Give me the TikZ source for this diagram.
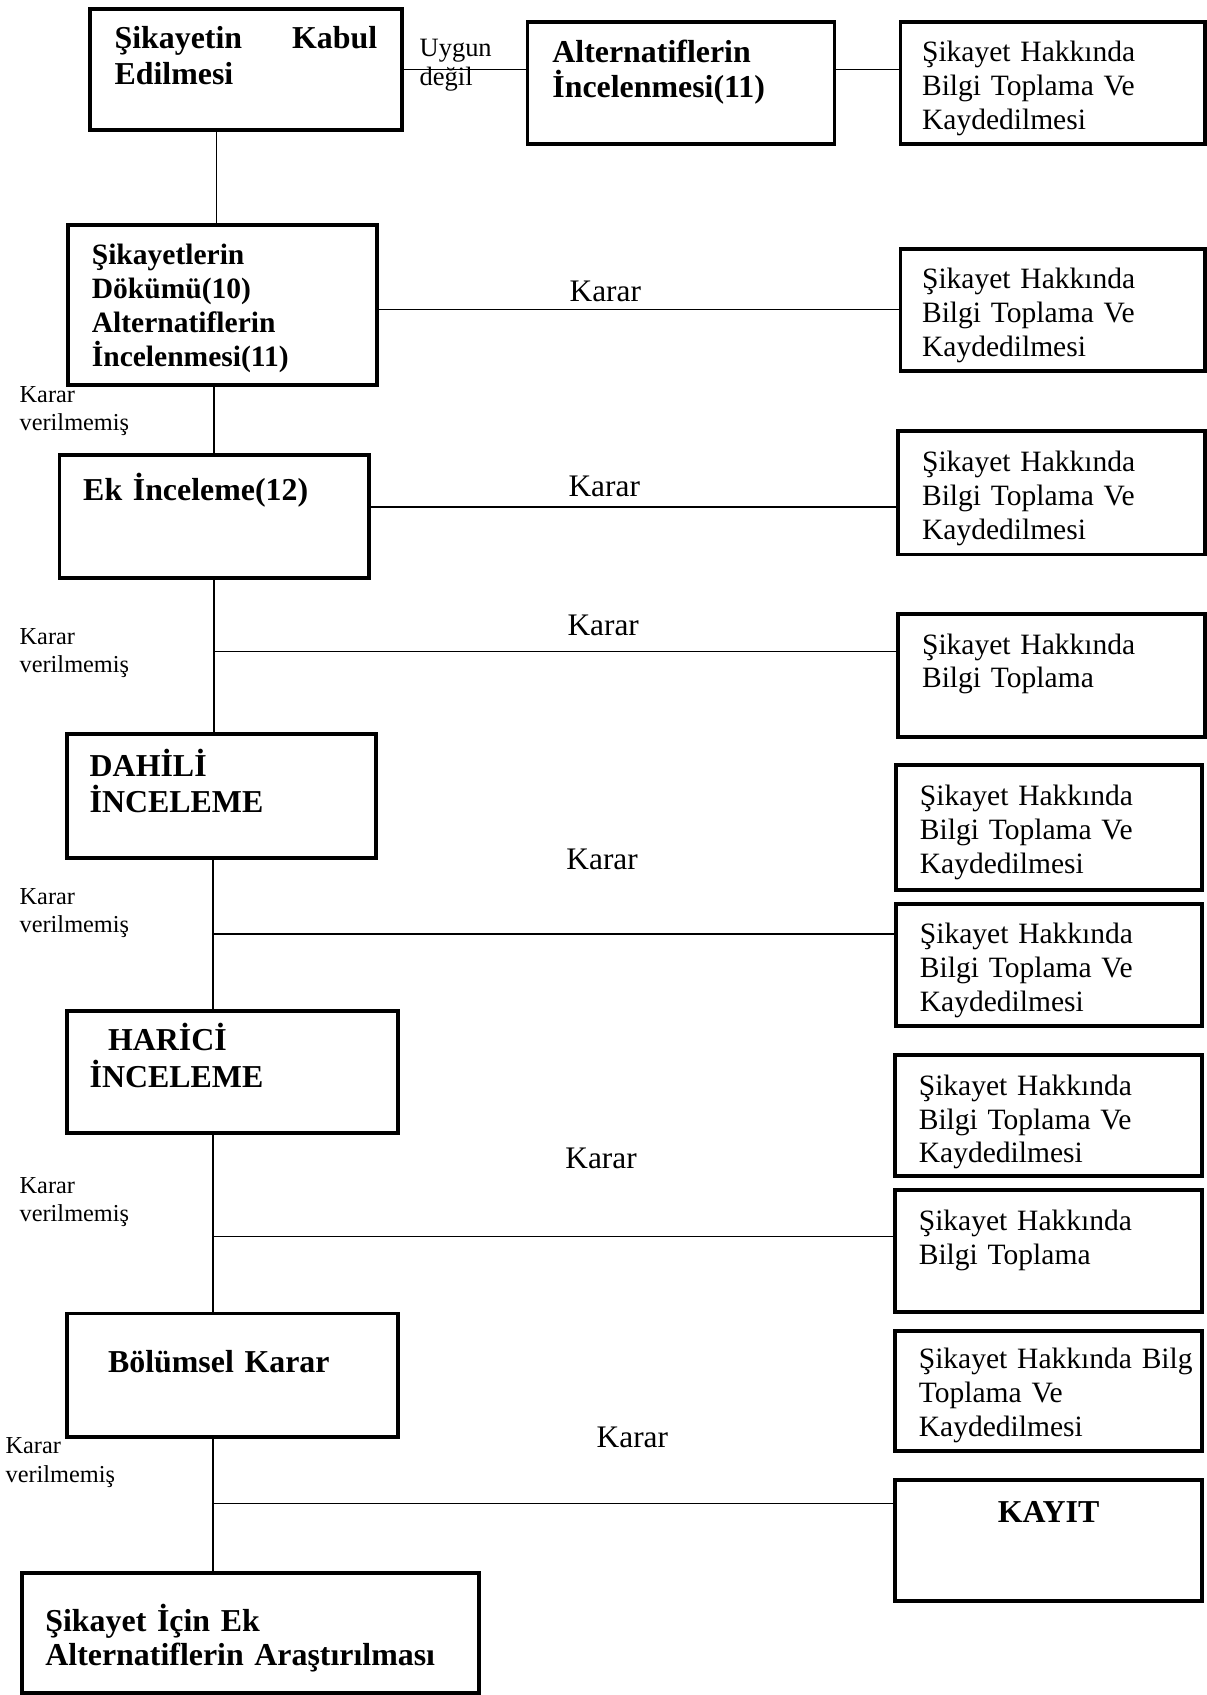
\documentclass[tikz,border=0pt]{standalone}
\usepackage{fontspec}
\setmainfont{Liberation Serif}
\newcommand{\boxfont}{\fontsize{27.3}{31.4}\selectfont}
\newcommand{\headfont}{\fontsize{29.5}{31.4}\selectfont\bfseries}
\newcommand{\notefont}{\fontsize{22.5}{26}\selectfont}
\newcommand{\tagfont}{\fontsize{24.5}{27}\selectfont}
\newcommand{\kararfont}{\fontsize{29}{31}\selectfont}
\tikzset{
  cell/.style={draw, line width=3.5pt, anchor=north west, outer sep=0pt,
    inner ysep=0pt, align=left, font=\boxfont},
  cellb/.style={cell, font=\headfont},
  dims/.style n args={4}{inner xsep=#1pt, text width=#2pt,
    text height=#3pt, text depth=#4pt},
  wire/.style={line width=1.2pt},
  sidenote/.style={anchor=base west, inner sep=0pt, text width=130pt,
    align=left, font=\notefont},
  smalltag/.style={anchor=base west, inner sep=0pt, font=\tagfont},
  karar/.style={anchor=base, inner sep=0pt, font=\kararfont},
}
\begin{document}
\begin{tikzpicture}[x=1pt, y=-1pt]
\fill[white] (0,0) rectangle (1116,1568);
\useasboundingbox (0,0) rectangle (1116,1568);

% main column
\node[cellb, dims={23}{243}{37}{75}] (A) at (83,8)
  {Şikayetin\hfill Kabul\\[1.6pt]Edilmesi};
\node[cellb, font=\boxfont\bfseries, dims={22}{242}{37}{111}] (D) at (63,208)
  {Şikayetlerin\\Dökümü(10)\\Alternatiflerin\\İncelenmesi(11)};
\node[cellb, dims={22}{242}{42}{72}] (E) at (55,421) {Ek İnceleme(12)};
\node[cellb, dims={21}{244}{39}{76}] (F) at (62,679)
  {DAHİLİ\\[2.6pt]İNCELEME};
\node[cellb, dims={21}{264}{37}{76}] (G) at (62,935)
  {\hspace*{17pt}HARİCİ\\[2.6pt]İNCELEME};
\node[cellb, dims={38}{230}{55}{59}] (H) at (62,1215) {Bölümsel Karar};
\node[cellb, dims={22}{379}{54}{57}] (I) at (20,1455)
  {Şikayet İçin Ek\\Alternatiflerin Araştırılması};

% top row middle
\node[cellb, dims={23}{238}{38}{75}] (B) at (488,20)
  {Alternatiflerin\\[1pt]İncelenmesi(11)};

% right column
\node[cell, dims={20}{242}{37}{76}] (C1) at (833,20)
  {Şikayet Hakkında\\Bilgi Toplama Ve\\Kaydedilmesi};
\node[cell, dims={20}{242}{37}{76}] (C2) at (833,230)
  {Şikayet Hakkında\\Bilgi Toplama Ve\\Kaydedilmesi};
\node[cell, dims={22}{240}{37}{77}] (C3) at (831,399)
  {Şikayet Hakkında\\Bilgi Toplama Ve\\Kaydedilmesi};
\node[cell, dims={22}{240}{37}{77}] (C4) at (831,568)
  {Şikayet Hakkında\\Bilgi Toplama};
\node[cell, dims={22}{239}{37}{78}] (C5) at (829,708)
  {Şikayet Hakkında\\Bilgi Toplama Ve\\Kaydedilmesi};
\node[cell, dims={22}{239}{37}{76}] (C6) at (829,836)
  {Şikayet Hakkında\\Bilgi Toplama Ve\\Kaydedilmesi};
\node[cell, dims={22}{240}{37}{75}] (C7) at (828,976)
  {Şikayet Hakkında\\Bilgi Toplama Ve\\Kaydedilmesi};
\node[cell, dims={22}{240}{37}{76}] (C8) at (828,1101)
  {Şikayet Hakkında\\Bilgi Toplama};
\node[cell, dims={22}{240}{35}{76}] (C9) at (828,1231)
  {\mbox{Şikayet Hakkında Bilg}\\Toplama Ve\\Kaydedilmesi};
\node[cellb, align=center, dims={22}{240}{39}{73}] (K) at (828,1369) {KAYIT};

% trunk positions and branch points
\coordinate (tA) at (200,0);
\coordinate (tB) at (198,0);
\coordinate (tC) at (197,0);
\coordinate (r3) at (0,469);
\coordinate (j1) at (198,603);
\coordinate (j2) at (197,864);
\coordinate (j3) at (197,1144);
\coordinate (j4) at (197,1391);

% vertical trunk
\draw[wire] (A.south -| tA) -- (D.north -| tA);
\draw[wire] (D.south -| tB) -- (E.north -| tB);
\draw[wire] (E.south -| tB) -- (F.north -| tB);
\draw[wire] (F.south -| tC) -- (G.north -| tC);
\draw[wire] (G.south -| tC) -- (H.north -| tC);
\draw[wire] (H.south -| tC) -- (I.north -| tC);

% horizontal links
\draw[wire] (A.east) -- (A.east -| B.west);
\draw[wire] (B.east |- A.east) -- (C1.west |- A.east);
\draw[wire] (D.east |- C2.west) -- (C2.west);
\draw[wire] (E.east |- r3) -- (C3.west |- r3);
\draw[wire] (j1) -- (j1 -| C4.west);
\draw[wire] (j2) -- (j2 -| C6.west);
\draw[wire] (j3) -- (j3 -| C8.west);
\draw[wire] (j4) -- (j4 -| K.west);

% labels
\node[smalltag] (u1) at (388,52) {Uygun};
\node[smalltag] (u2) at (388,79) {değil};

\node[sidenote] (n1) at (18,372) {Karar\\verilmemiş};
\node[sidenote] (n2) at (18,596) {Karar\\verilmemiş};
\node[sidenote] (n3) at (18,837) {Karar\\verilmemiş};
\node[sidenote] (n4) at (18,1104) {Karar\\verilmemiş};
\node[sidenote] (n5) at (5,1345) {Karar\\verilmemiş};

\node[karar] (k1) at (560,279) {Karar};
\node[karar] (k2) at (559,459) {Karar};
\node[karar] (k3) at (558,588) {Karar};
\node[karar] (k4) at (557,804) {Karar};
\node[karar] (k5) at (556,1081) {Karar};
\node[karar] (k6) at (585,1339) {Karar};
\end{tikzpicture}
\end{document}
